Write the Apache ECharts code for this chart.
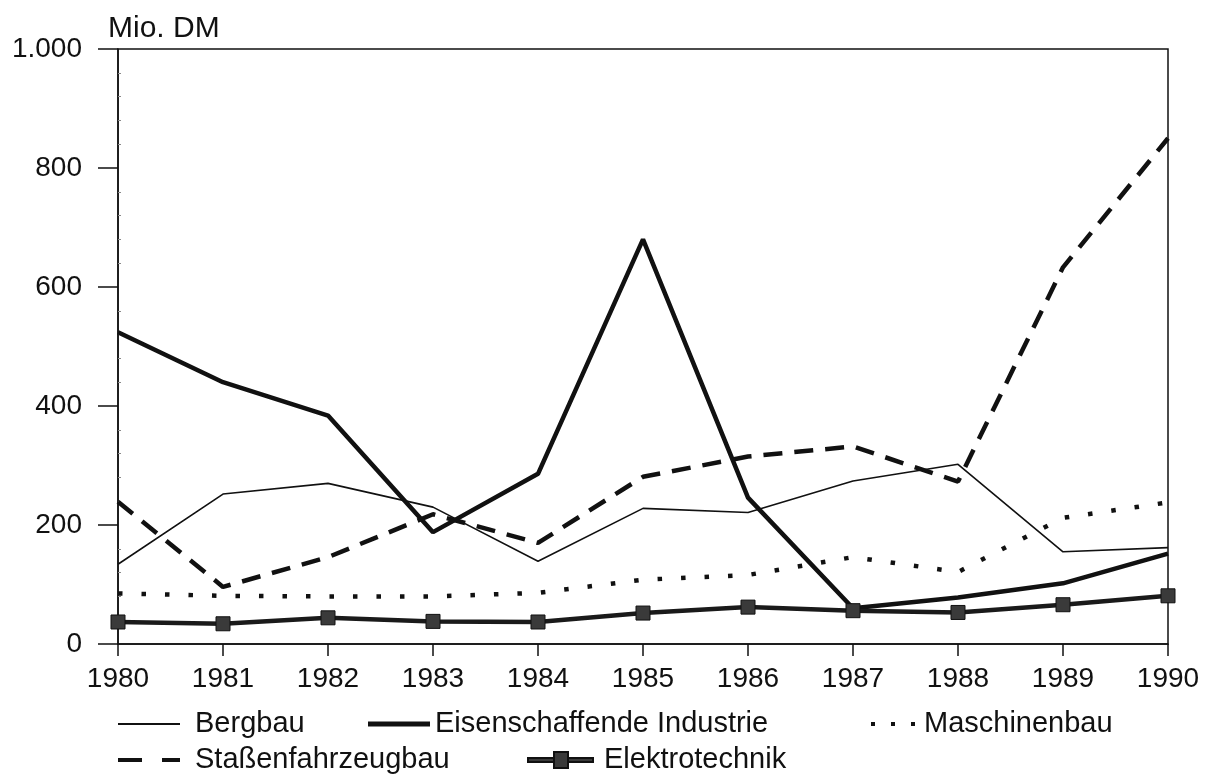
<!DOCTYPE html>
<html>
<head>
<meta charset="utf-8">
<script src="https://cdn.jsdelivr.net/npm/echarts@6/dist/echarts.min.js"></script>
<style>
  html, body { margin: 0; padding: 0; background: #fff; }
  #chart { width: 1215px; height: 777px; }
</style>
</head>
<body>
<div id="chart"></div>
<script>
// data (Mio. DM)
const years = ["1980", "1981", "1982", "1983", "1984", "1985", "1986", "1987", "1988", "1989", "1990"];
const bergbau = [134, 252, 270, 230, 139, 228, 221, 274, 302, 155, 162];
const eisen = [524, 440, 384, 188, 286, 680, 246, 60, 78, 102, 152];
const maschinenbau = [85, 81, 80, 80, 86, 108, 116, 146, 121, 212, 238];
const strassen = [239, 96, 146, 218, 170, 281, 315, 332, 273, 633, 850];
const elektro = [37, 34, 44, 38, 37, 52, 62, 56, 53, 66, 81];

const FONT = "Liberation Sans";
const INK = "#111";

var dom = document.getElementById("chart");
var myChart = echarts.init(dom, null, { renderer: "canvas" });

// one legend per entry so each one sits where it does in the scan
function legendAt(name, icon, left, top, w, h, gap) {
  return {
    data: [{ name: name, icon: icon }],
    left: left,
    top: top,
    padding: 0,
    itemWidth: w,
    itemHeight: h,
    selectedMode: false,
    textStyle: {
      fontFamily: FONT,
      fontSize: 29,
      lineHeight: 30,
      color: INK,
      padding: [0, 0, 0, gap],
    },
  };
}

var option = {
  animation: false,
  backgroundColor: "#fff",
  title: {
    text: "Mio. DM",
    left: 103,
    top: 9,
    textStyle: { fontFamily: FONT, fontSize: 30, fontWeight: "normal", color: INK },
  },
  legend: [
    legendAt("Bergbau", "rect", 118, 709, 62, 2, 10),
    legendAt("Eisenschaffende Industrie", "rect", 368, 709, 62, 5, 0),
    legendAt("Maschinenbau",
      "path://M0,0H4V4H0Z M20,0H24V4H20Z M40,0H44V4H40Z", 871, 709, 44, 4, 4),
    legendAt("Staßenfahrzeugbau",
      "path://M0,0H24V4H0Z M44,0H62V4H44Z", 118, 745, 62, 4, 10),
    legendAt("Elektrotechnik",
      "path://M0,6H26V10H0Z M26,0H40V16H26Z M40,6H65V10H40Z", 527, 745, 65, 16, 6),
  ],
  grid: {
    left: 118,
    right: 1215 - 1168,
    top: 49,
    bottom: 777 - 644,
    show: true,
    borderColor: INK,
    borderWidth: 1.5,
  },
  xAxis: {
    type: "category",
    data: years,
    boundaryGap: false,
    axisLine: { lineStyle: { color: INK, width: 1.5 } },
    axisTick: { length: 12, lineStyle: { color: INK, width: 1.5 } },
    axisLabel: { fontFamily: FONT, fontSize: 28, color: INK, margin: 21 },
    splitLine: { show: false },
  },
  yAxis: {
    type: "value",
    min: 0,
    max: 1000,
    interval: 200,
    axisLine: { show: true, lineStyle: { color: INK, width: 1.5 } },
    axisTick: { show: true, length: 20, lineStyle: { color: INK, width: 1.5 } },
    minorTick: { show: true, splitNumber: 5, length: -3, lineStyle: { color: "#888" } },
    axisLabel: {
      fontFamily: FONT,
      fontSize: 28,
      color: INK,
      margin: 36,
      formatter: function (v) {
        return v === 1000 ? "1.000" : String(v);
      },
    },
    splitLine: { show: false },
  },
  series: [
    {
      name: "Bergbau",
      type: "line",
      data: bergbau,
      symbol: "none",
      lineStyle: { color: INK, width: 1.6 },
      itemStyle: { color: INK },
    },
    {
      name: "Eisenschaffende Industrie",
      type: "line",
      data: eisen,
      symbol: "none",
      lineStyle: { color: INK, width: 4.5 },
      itemStyle: { color: INK },
    },
    {
      name: "Maschinenbau",
      type: "line",
      data: maschinenbau,
      symbol: "none",
      lineStyle: { color: INK, width: 4.5, type: [4.5, 19], cap: "butt" },
      itemStyle: { color: INK },
    },
    {
      name: "Staßenfahrzeugbau",
      type: "line",
      data: strassen,
      symbol: "none",
      lineStyle: { color: INK, width: 4.5, type: [19, 12], cap: "butt" },
      itemStyle: { color: INK },
    },
    {
      name: "Elektrotechnik",
      type: "line",
      data: elektro,
      symbol: "rect",
      symbolSize: 14,
      lineStyle: { color: "#1a1a1a", width: 4.5 },
      itemStyle: { color: "#3a3a3a", borderColor: INK, borderWidth: 1 },
    },
  ],
};

if (option && typeof option === "object") {
  myChart.setOption(option);
}
window.addEventListener("resize", myChart.resize);
</script>
</body>
</html>
